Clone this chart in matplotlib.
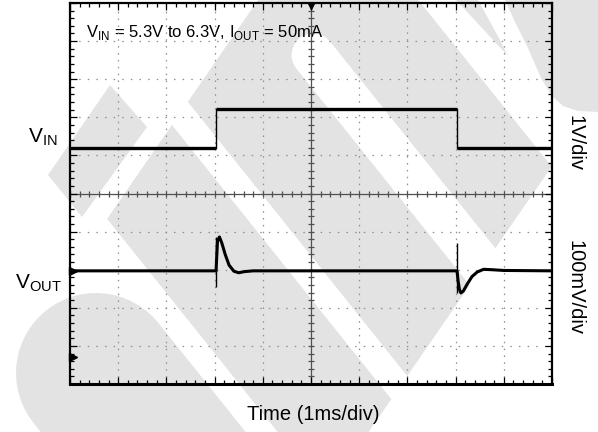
import numpy as np
import matplotlib
matplotlib.use("Agg")
import matplotlib.pyplot as plt
from matplotlib.patches import Polygon

plt.rcParams['font.family'] = ['Liberation Sans', 'DejaVu Sans']
plt.rcParams['mathtext.fontset'] = 'custom'
plt.rcParams['mathtext.rm'] = 'Liberation Sans'

# ---------------- data (oscilloscope divisions, 1 ms/div on x) ----------------
vin_t = [0.0, 3.03, 3.03, 8.03, 8.03, 10.0]
vin_div = [6.19, 6.19, 7.22, 7.22, 6.19, 6.19]

vout_t = [0.0, 3.03, 3.06, 3.10, 3.15, 3.22, 3.30, 3.40, 3.50, 3.62, 3.80,
          8.03, 8.05, 8.08, 8.11, 8.16, 8.24, 8.34, 8.45, 8.58, 8.75, 9.0, 10.0]
vout_div = [2.97, 2.97, 3.75, 3.86, 3.70, 3.40, 3.12, 2.96, 2.92, 2.95, 2.97,
            2.97, 2.72, 2.48, 2.39, 2.44, 2.62, 2.82, 2.94, 3.01, 3.00, 2.98, 2.97]

spike_t = [3.03, 8.03]
spike_lo = [2.55, 2.40]
spike_hi = [3.86, 3.70]

chan_marker_y = [2.97, 0.71]
trigger_x = [5.0]

title_text = r'V$_{\mathregular{IN}}$ = 5.3V to 6.3V, I$_{\mathregular{OUT}}$ = 50mA'
vin_label = r'V$_{\mathregular{IN}}$'
vout_label = r'V$_{\mathregular{OUT}}$'
scale1 = '1V/div'
scale2 = '100mV/div'
xlabel = 'Time (1ms/div)'

# ---------------- figure ----------------
W, H = 598, 432
fig = plt.figure(figsize=(W / 100, H / 100), dpi=100)
bg = fig.add_axes([0, 0, 1, 1], zorder=0)
bg.set_xlim(0, W)
bg.set_ylim(H, 0)
bg.axis('off')

# ---- watermark (decorative light-grey logo stripes, pixel coordinates) ----
GREY = '#e3e3e3'
S = 1.25                 # slope of "\" stripes
K1, K2 = 374.15, 966.5   # "/" cut lines  y = K - 1.45 x


def cx(c, K):
    x = (K - c) / 2.7
    return (x, S * x + c)


def cy(c, y):
    return ((y - c) / S, y)


d = np.array([1.0, S]) / np.hypot(1.0, S)
n = np.array([d[1], -d[0]])


def cap_arc(center, r):
    center = np.array(center)
    th = np.linspace(0, np.pi, 30)
    arc = [center + r * (np.cos(t) * n + np.sin(t) * (-d)) for t in th]
    p_r = center + r * n
    p_l = center - r * n
    return arc, p_r[1] - S * p_r[0], p_l[1] - S * p_l[0]


def capped_to_bottom(center, r, ybot):
    arc, cr, cl = cap_arc(center, r)
    return arc + [cy(cl, ybot), cy(cr, ybot)]


def capped_to_line(center, r, K):
    arc, cr, cl = cap_arc(center, r)
    return arc + [cx(cl, K), cx(cr, K)]


grey_polys = [
    [cx(85, K1), (K1 / 1.45, 0), cy(-523, 0), cx(-523, K2),
     ((K2 - 432) / 1.45, 432), cy(85, 432)],
    [(110, 85), (147, 127), (82, 217), (48, 175)],
    [cy(-570, 0), (478, 0), (500, 40), (508, 56)],
    [(505, 0), (515, 22), (527, 46), (541, 78), (552, 96), (563, 106),
     (578, 111), (598, 112), (598, 0)],
    capped_to_bottom((96, 373), 80, 445),
]
for p in grey_polys:
    bg.add_patch(Polygon(p, closed=True, fc=GREY, ec='none', zorder=1))

white_polys = [
    [cx(-90, K1 - 25), cx(-133, K1 - 25), cx(-133, K2 + 40), cx(-90, K2 + 40)],
    capped_to_line(((55 + 336.5) / S, 55), 21.6, K2 + 40),
]
for p in white_polys:
    bg.add_patch(Polygon(p, closed=True, fc='white', ec='none', zorder=2))

# ---- texts ----
bg.text(86, 37, title_text, fontsize=12, ha='left', va='baseline', zorder=5)
bg.text(28, 142, vin_label, fontsize=15, ha='left', va='baseline', zorder=5)
bg.text(15, 288, vout_label, fontsize=15, ha='left', va='baseline', zorder=5)
bg.text(575, 143, scale1, fontsize=14.5, rotation=-90, ha='center', va='center', zorder=5)
bg.text(575, 288, scale2, fontsize=14.5, rotation=-90, ha='center', va='center', zorder=5)
bg.text(313.5, 414, xlabel, fontsize=14.5, ha='center', va='center', zorder=5)

# ---- scope screen ----
ax = fig.add_axes([70 / W, 1 - 384 / H, 482 / W, 381 / H], zorder=1)
ax.set_facecolor('none')
ax.set_xlim(0, 10)
ax.set_ylim(0, 10)

gcol = '#8e8e8e'
for i in range(1, 10):
    if i == 5:
        continue
    ax.axvline(i, color=gcol, lw=0.9, ls=(0, (1.2, 4.3)), zorder=1)
    ax.axhline(i, color=gcol, lw=0.9, ls=(0, (1.2, 5.7)), zorder=1)
ax.axhline(5, color='#505050', lw=0.9, zorder=1)
ax.axvline(5, color='#505050', lw=0.9, zorder=1)
minor = np.arange(0, 10.001, 0.2)
ax.plot(minor, np.full_like(minor, 5.0), ls='none', marker='|', ms=5,
        mew=0.9, color='#505050', zorder=1)
ax.plot(np.full_like(minor, 5.0), minor, ls='none', marker='_', ms=5,
        mew=0.9, color='#505050', zorder=1)

ax.set_xticks(np.arange(0, 11, 1))
ax.set_yticks(np.arange(0, 11, 1))
ax.set_xticks(minor, minor=True)
ax.set_yticks(minor, minor=True)
ax.tick_params(which='both', direction='in', top=True, right=True,
               labelbottom=False, labelleft=False, color='black', width=0.9)
ax.tick_params(which='major', length=5)
ax.tick_params(which='minor', length=3)
for side, sp in ax.spines.items():
    sp.set_color('black')
    sp.set_linewidth(1.6)
ax.spines['bottom'].set_linewidth(2.2)

# VIN: thin edges + thick levels
ax.plot(vin_t, vin_div, color='black', lw=1.0, zorder=4)
for i in range(0, len(vin_t), 2):
    ax.plot(vin_t[i:i + 2], vin_div[i:i + 2], color='black', lw=2.4,
            solid_capstyle='butt', zorder=4)

# VOUT
ax.plot(vout_t, vout_div, color='black', lw=2.2, zorder=4)
ax.vlines(spike_t, spike_lo, spike_hi, color='black', lw=1.0, zorder=4)

# channel and trigger markers
ax.plot([0.07] * len(chan_marker_y), chan_marker_y, ls='none', marker='>',
        ms=6, color='black', clip_on=False, zorder=5)
ax.plot(trigger_x, [9.93], ls='none', marker='v', ms=5, color='black',
        clip_on=False, zorder=5)

fig.savefig('out.png', dpi=100)
